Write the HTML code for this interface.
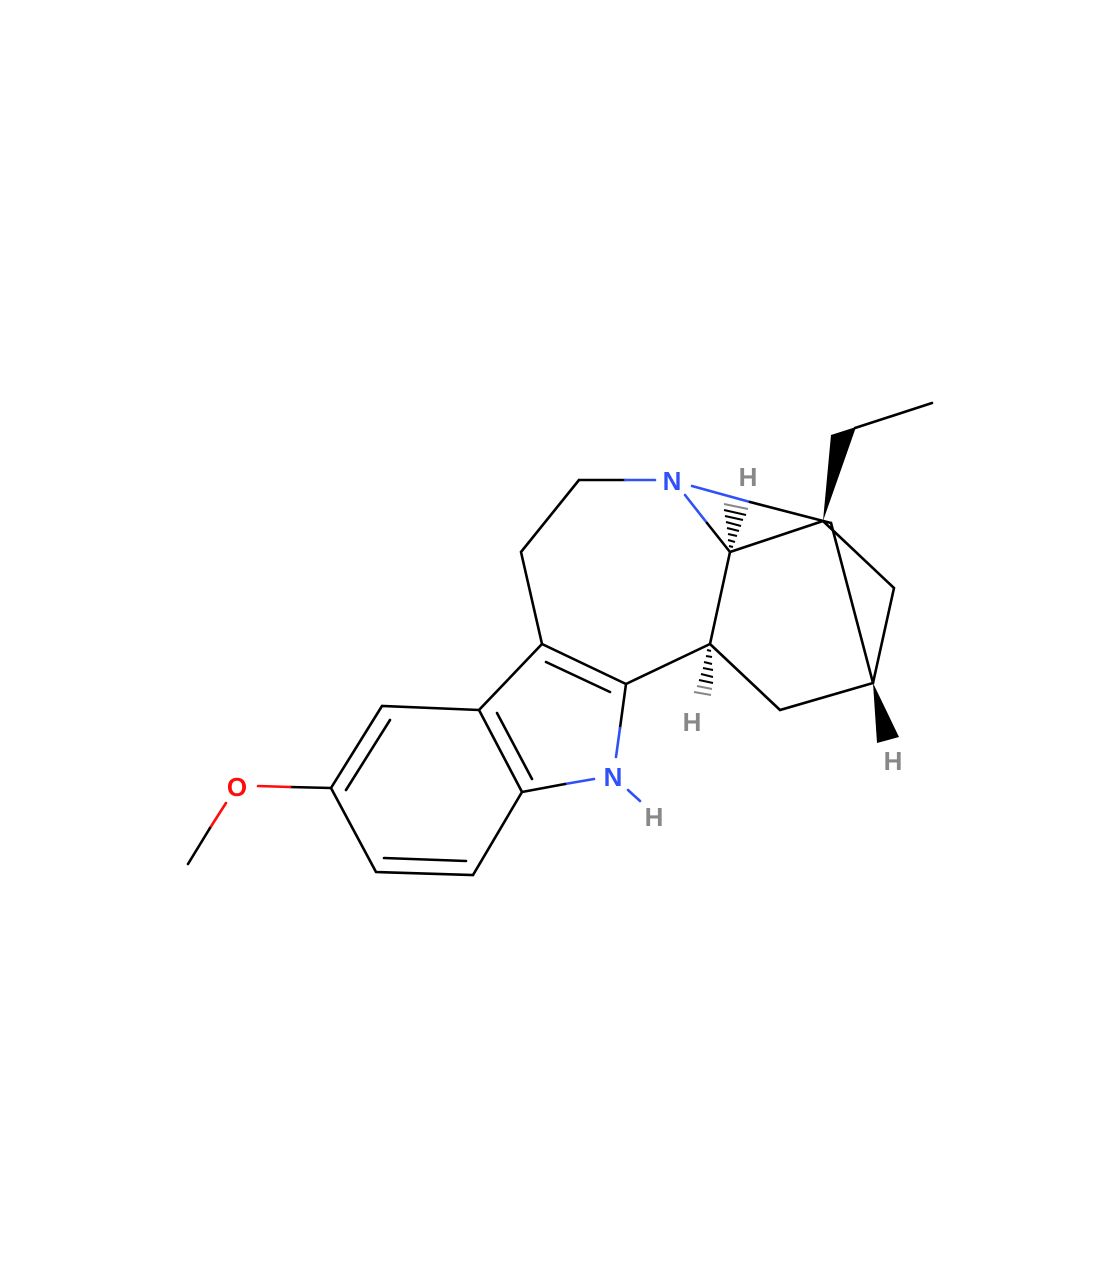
<!DOCTYPE html>
<html><head><style>body{margin:0;background:#fff}</style></head><body>
<svg width="1120" height="1278" xmlns="http://www.w3.org/2000/svg" style="display:block">
<g stroke="#000" stroke-width="2.6" fill="none" stroke-linecap="round">
<path d="M579,480 L625,480"/><path d="M625,480 L655,480" stroke="#3050F8"/>
<path d="M692,486 L750,502" stroke="#3050F8"/><path d="M750,502 L831,523"/>
<path d="M685,495 L707,523" stroke="#3050F8"/><path d="M707,523 L730,552"/>
<path d="M730,552 L823,521"/><path d="M730,552 L710,644"/>
<path d="M823,521 L894,588 L873,683"/><path d="M831,523 L873,683"/>
<path d="M710,644 L626,684"/><path d="M710,644 L780,710 L873,683"/>
<path d="M855,428 L932,403"/>
<path d="M579,480 L521,552 L542,644 L626,684"/><path d="M546,662 L610,692"/>
<path d="M626,684 L620,728"/><path d="M620,728 L616,757" stroke="#3050F8"/>
<path d="M594,779 L565,784" stroke="#3050F8"/><path d="M565,784 L522,792"/>
<path d="M628,790 L640,801" stroke="#3050F8"/>
<path d="M542,644 L479,710 L522,792"/><path d="M497,713 L532,779"/>
<path d="M479,710 L382,706 L331,788 L376,872 L473,875 L522,792"/>
<path d="M390,720 L346,790"/><path d="M384,858 L466,861"/>
<path d="M331,788 L290,787"/><path d="M290,787 L258,786" stroke="#FF0D0D"/>
<path d="M226,803 L210,828" stroke="#FF0D0D"/><path d="M210,828 L188,864"/>
</g>
<polygon points="823,521 831,435 856,427" fill="#000"/>
<polygon points="873,683 877,743 899,737" fill="#000"/>
<g stroke="#000" stroke-width="2">
<path d="M729,546 L733,547"/><path d="M728,540 L735,542"/><path d="M728,534 L737,536"/><path d="M727,528 L739,531"/><path d="M726,522 L741,526"/><path d="M725,516 L743,520"/><path d="M724,510 L746,515"/><path d="M724,504 L748,509" stroke="#888"/>
<path d="M707,650 L711,651"/><path d="M706,656 L712,657"/><path d="M704,662 L712,664"/><path d="M703,668 L713,670"/><path d="M701,674 L713,677"/><path d="M699,680 L713,683"/><path d="M697,686 L712,689" stroke="#888"/><path d="M694,692 L711,695" stroke="#888"/>
</g>
<g font-family="Liberation Sans, sans-serif" font-weight="bold" font-size="26" text-anchor="middle">
<text x="672" y="490" fill="#3050F8">N</text>
<text x="613" y="786" fill="#3050F8">N</text>
<text x="237" y="796" fill="#FF0D0D">O</text>
<text x="748" y="486" fill="#888">H</text>
<text x="692" y="731" fill="#888">H</text>
<text x="893" y="770" fill="#888">H</text>
<text x="654" y="826" fill="#888">H</text>
</g>
</svg>
</body></html>
